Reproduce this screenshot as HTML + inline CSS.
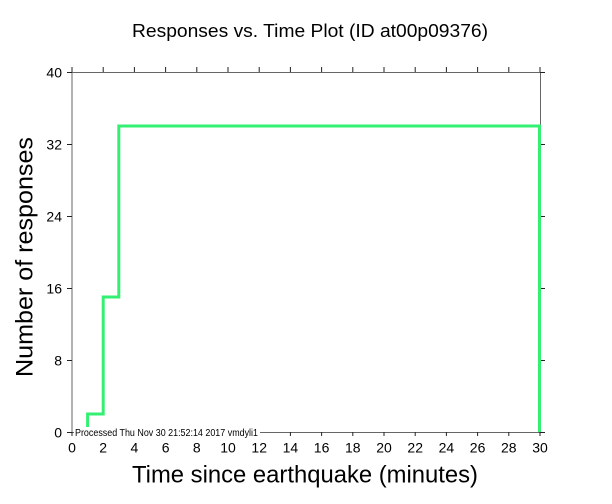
<!DOCTYPE html>
<html>
<head>
<meta charset="utf-8">
<style>
html,body{margin:0;padding:0;background:#fff;}
svg{display:block;}
text{font-family:"Liberation Sans",Arial,Helvetica,sans-serif;fill:#000;}
</style>
</head>
<body>
<svg width="612" height="504" viewBox="0 0 612 504" xmlns="http://www.w3.org/2000/svg">
<rect width="612" height="504" fill="#fff"/>
<!-- title -->
<text x="310" y="37" font-size="18.5" text-anchor="middle" textLength="356" lengthAdjust="spacingAndGlyphs">Responses vs. Time Plot (ID at00p09376)</text>

<!-- axes frame -->
<g stroke="#666" stroke-width="1" fill="none">
<line x1="72" y1="72.5" x2="540.5" y2="72.5"/>
<line x1="72" y1="432.5" x2="540.5" y2="432.5"/>
<line x1="72" y1="72" x2="72" y2="432.5"/>
<line x1="540.5" y1="72" x2="540.5" y2="432.5"/>
</g>

<!-- top ticks (up) and bottom ticks (down) -->
<g stroke="#222" stroke-width="1">
<line x1="72" y1="67" x2="72" y2="72"/><line x1="72" y1="432" x2="72" y2="436"/>
<line x1="103.2" y1="67" x2="103.2" y2="72"/><line x1="103.2" y1="432" x2="103.2" y2="436"/>
<line x1="134.4" y1="67" x2="134.4" y2="72"/><line x1="134.4" y1="432" x2="134.4" y2="436"/>
<line x1="165.6" y1="67" x2="165.6" y2="72"/><line x1="165.6" y1="432" x2="165.6" y2="436"/>
<line x1="196.8" y1="67" x2="196.8" y2="72"/><line x1="196.8" y1="432" x2="196.8" y2="436"/>
<line x1="228" y1="67" x2="228" y2="72"/><line x1="228" y1="432" x2="228" y2="436"/>
<line x1="259.2" y1="67" x2="259.2" y2="72"/><line x1="259.2" y1="432" x2="259.2" y2="436"/>
<line x1="290.4" y1="67" x2="290.4" y2="72"/><line x1="290.4" y1="432" x2="290.4" y2="436"/>
<line x1="321.6" y1="67" x2="321.6" y2="72"/><line x1="321.6" y1="432" x2="321.6" y2="436"/>
<line x1="352.8" y1="67" x2="352.8" y2="72"/><line x1="352.8" y1="432" x2="352.8" y2="436"/>
<line x1="384" y1="67" x2="384" y2="72"/><line x1="384" y1="432" x2="384" y2="436"/>
<line x1="415.2" y1="67" x2="415.2" y2="72"/><line x1="415.2" y1="432" x2="415.2" y2="436"/>
<line x1="446.4" y1="67" x2="446.4" y2="72"/><line x1="446.4" y1="432" x2="446.4" y2="436"/>
<line x1="477.6" y1="67" x2="477.6" y2="72"/><line x1="477.6" y1="432" x2="477.6" y2="436"/>
<line x1="508.8" y1="67" x2="508.8" y2="72"/><line x1="508.8" y1="432" x2="508.8" y2="436"/>
<line x1="540" y1="67" x2="540" y2="72"/><line x1="540" y1="432" x2="540" y2="436"/>
</g>

<!-- left ticks (left) and right ticks (right) -->
<g stroke="#222" stroke-width="1">
<line x1="67" y1="72.5" x2="72" y2="72.5"/><line x1="540" y1="72.5" x2="545" y2="72.5"/>
<line x1="67" y1="144.5" x2="72" y2="144.5"/><line x1="540" y1="144.5" x2="545" y2="144.5"/>
<line x1="67" y1="216.5" x2="72" y2="216.5"/><line x1="540" y1="216.5" x2="545" y2="216.5"/>
<line x1="67" y1="288.5" x2="72" y2="288.5"/><line x1="540" y1="288.5" x2="545" y2="288.5"/>
<line x1="67" y1="360.5" x2="72" y2="360.5"/><line x1="540" y1="360.5" x2="545" y2="360.5"/>
<line x1="67" y1="432.5" x2="72" y2="432.5"/><line x1="540" y1="432.5" x2="545" y2="432.5"/>
</g>

<!-- y tick labels -->
<g font-size="14" text-anchor="end">
<text x="62" y="77.5">40</text>
<text x="62" y="149.5">32</text>
<text x="62" y="221.5">24</text>
<text x="62" y="293.5">16</text>
<text x="62" y="365.5">8</text>
<text x="62" y="437.5">0</text>
</g>

<!-- x tick labels -->
<g font-size="14" text-anchor="middle">
<text x="72" y="452.5">0</text>
<text x="103.2" y="452.5">2</text>
<text x="134.4" y="452.5">4</text>
<text x="165.6" y="452.5">6</text>
<text x="196.8" y="452.5">8</text>
<text x="228" y="452.5">10</text>
<text x="259.2" y="452.5">12</text>
<text x="290.4" y="452.5">14</text>
<text x="321.6" y="452.5">16</text>
<text x="352.8" y="452.5">18</text>
<text x="384" y="452.5">20</text>
<text x="415.2" y="452.5">22</text>
<text x="446.4" y="452.5">24</text>
<text x="477.6" y="452.5">26</text>
<text x="508.8" y="452.5">28</text>
<text x="540" y="452.5">30</text>
</g>

<!-- axis labels -->
<text x="305" y="482.5" font-size="24" text-anchor="middle" textLength="346" lengthAdjust="spacingAndGlyphs">Time since earthquake (minutes)</text>
<text transform="translate(32.5,257) rotate(-90)" font-size="24.5" text-anchor="middle" textLength="240" lengthAdjust="spacingAndGlyphs">Number of responses</text>

<!-- data step line -->
<polyline fill="none" stroke="#33f072" stroke-width="3" stroke-linejoin="miter"
 points="87.6,432 87.6,414 103.2,414 103.2,297 118.8,297 118.8,126 539.5,126 539.5,432"/>

<!-- processed stamp -->
<rect x="74" y="427" width="186" height="10" fill="#fff"/>
<text x="75" y="436" font-size="10" textLength="183" lengthAdjust="spacingAndGlyphs">Processed Thu Nov 30 21:52:14 2017 vmdyli1</text>
</svg>
</body>
</html>
